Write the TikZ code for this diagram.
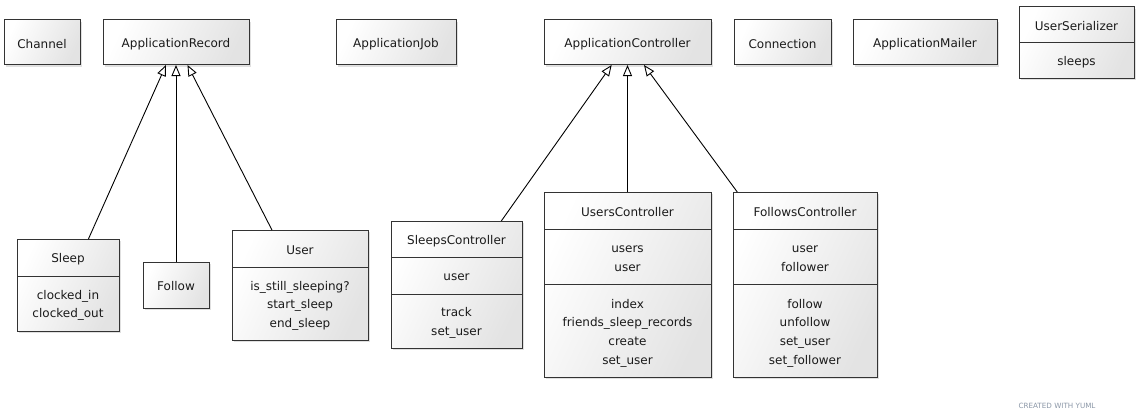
\documentclass[tikz,border=0pt]{standalone}
\usepackage{fontspec}
\setmainfont{DejaVu Sans}
\usetikzlibrary{arrows.meta,shadows}
\definecolor{boxline}{HTML}{333333}
\definecolor{txt}{HTML}{1A1A1A}
\definecolor{yumlgray}{HTML}{8A96A6}
\tikzset{
  cls/.style={draw=boxline, line width=1pt, left color=white, right color=black!11, shading angle=65,
    drop shadow={shadow xshift=2pt, shadow yshift=-2pt, fill=black, opacity=0.12},
    inner sep=0pt, outer sep=0pt},
  lbl/.style={font=\fontsize{12}{18.6}\selectfont, text=txt, align=center, inner sep=0pt, yshift=-1.5pt},
  div/.style={draw=boxline, line width=1pt},
  inherit/.style={draw=black, line width=0.9pt, -{Triangle[length=11pt,width=9pt,fill=white,line width=0.9pt]}},
}
\begin{document}
\begin{tikzpicture}[x=1pt,y=-1pt]
\useasboundingbox (0,0) rectangle (1140,420);

% top row
\node[cls, minimum width=76pt, minimum height=45pt] (channel) at (42,42.5) {};
\node[lbl] (channel-t) at (42,42.5) {Channel};

\node[cls, minimum width=146pt, minimum height=45pt] (apprec) at (176,42.5) {};
\node[lbl] (apprec-t) at (176,42.5) {ApplicationRecord};

\node[cls, minimum width=120pt, minimum height=45pt] (appjob) at (396,42.5) {};
\node[lbl] (appjob-t) at (396,42.5) {ApplicationJob};

\node[cls, minimum width=167pt, minimum height=45pt] (appctl) at (627.5,42.5) {};
\node[lbl] (appctl-t) at (627.5,42.5) {ApplicationController};

\node[cls, minimum width=97pt, minimum height=45pt] (conn) at (782.5,42.5) {};
\node[lbl] (conn-t) at (782.5,42.5) {Connection};

\node[cls, minimum width=144pt, minimum height=45pt] (mailer) at (925,42.5) {};
\node[lbl] (mailer-t) at (925,42.5) {ApplicationMailer};

\node[cls, minimum width=115pt, minimum height=71pt] (userser) at (1076.5,42.5) {};
\draw[div] (userser.north west) ++(0,36) -- ++(115,0);
\node[lbl] (userser-t) at (1076.5,25) {UserSerializer};
\node[lbl] (userser-a) at (1076.5,61) {sleeps};

% models
\node[cls, minimum width=102pt, minimum height=92pt] (sleep) at (68,285) {};
\draw[div] (sleep.north west) ++(0,37) -- ++(102,0);
\node[lbl] (sleep-t) at (68,257.5) {Sleep};
\node[lbl] (sleep-a) at (68,304) {clocked\_in\\clocked\_out};

\node[cls, minimum width=66pt, minimum height=46pt] (follow) at (176,285) {};
\node[lbl] (follow-t) at (176,285) {Follow};

\node[cls, minimum width=136pt, minimum height=110pt] (user) at (300,285) {};
\draw[div] (user.north west) ++(0,37) -- ++(136,0);
\node[lbl] (user-t) at (300,248.5) {User};
\node[lbl] (user-o) at (300,304) {is\_still\_sleeping?\\start\_sleep\\end\_sleep};

% controllers
\node[cls, minimum width=131pt, minimum height=127pt] (sleepsc) at (456.5,284.5) {};
\draw[div] (sleepsc.north west) ++(0,36) -- ++(131,0);
\draw[div] (sleepsc.north west) ++(0,73) -- ++(131,0);
\node[lbl] (sleepsc-t) at (456.5,239.5) {SleepsController};
\node[lbl] (sleepsc-a) at (456.5,276) {user};
\node[lbl] (sleepsc-o) at (456.5,321.5) {track\\set\_user};

\node[cls, minimum width=167pt, minimum height=185pt] (usersc) at (627.5,284.5) {};
\draw[div] (usersc.north west) ++(0,37) -- ++(167,0);
\draw[div] (usersc.north west) ++(0,92) -- ++(167,0);
\node[lbl] (usersc-t) at (627.5,211) {UsersController};
\node[lbl] (usersc-a) at (627.5,257.5) {users\\user};
\node[lbl] (usersc-o) at (627.5,331.5) {index\\friends\_sleep\_records\\create\\set\_user};

\node[cls, minimum width=144pt, minimum height=185pt] (followsc) at (805,284.5) {};
\draw[div] (followsc.north west) ++(0,37) -- ++(144,0);
\draw[div] (followsc.north west) ++(0,92) -- ++(144,0);
\node[lbl] (followsc-t) at (805,211) {FollowsController};
\node[lbl] (followsc-a) at (805,257.5) {user\\follower};
\node[lbl] (followsc-o) at (805,331.5) {follow\\unfollow\\set\_user\\set\_follower};

% inheritance
\draw[inherit] (sleep) -- (apprec);
\draw[inherit] (follow) -- (apprec);
\draw[inherit] (user) -- (apprec);
\draw[inherit] (sleepsc) -- (appctl);
\draw[inherit] (usersc) -- (appctl);
\draw[inherit] (followsc) -- (appctl);

\node[font=\fontsize{7.2}{8}\selectfont, text=yumlgray, inner sep=0pt] (credit) at (1057,405.5) {CREATED WITH YUML};
\end{tikzpicture}
\end{document}
